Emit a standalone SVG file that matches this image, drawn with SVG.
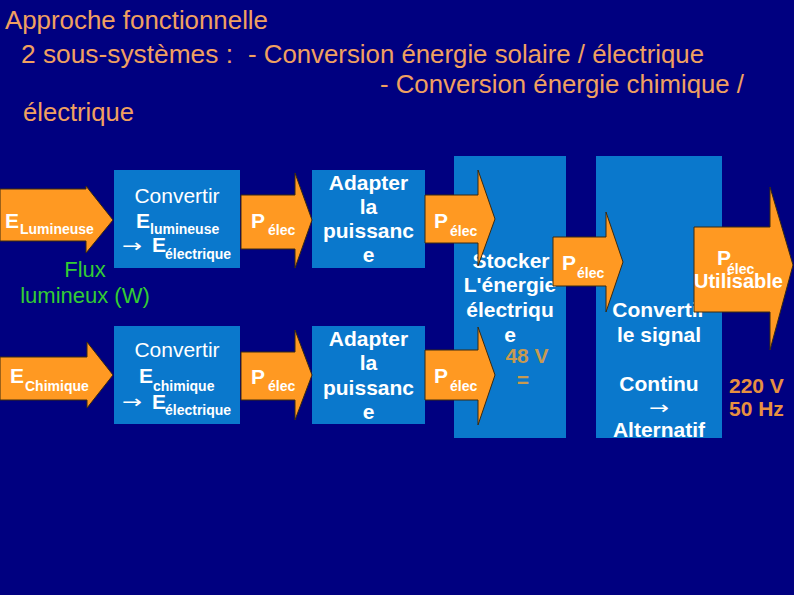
<svg xmlns="http://www.w3.org/2000/svg" width="794" height="595" viewBox="0 0 794 595">
<style>
text{font-family:"Liberation Sans",Arial,sans-serif}
.title{fill:#F0A060;font-size:26px}
.box{fill:#0A78CC}
.arr{fill:#FF9922;stroke:#3a2a10;stroke-width:1}
.w{fill:#fff;font-weight:bold}
.wn{fill:#fff;font-weight:normal}
.big{font-size:21px}
.sub{font-size:14px}
.ctr{text-anchor:middle}
.grn{fill:#3C3;font-size:22px}
.org{fill:#E89040;font-weight:bold;font-size:21px}
.khaki{fill:#C89A50}
text.ar{font-family:"DejaVu Sans",sans-serif;font-size:18px;fill:#fff}
</style>
<rect width="794" height="595" fill="#000080"/>
<g id="title">
<text class="title" x="5" y="29" textLength="263" lengthAdjust="spacingAndGlyphs">Approche fonctionnelle</text>
<text class="title" x="21" y="63" textLength="212" lengthAdjust="spacingAndGlyphs">2 sous-systèmes :</text>
<text class="title" x="248" y="63" textLength="456" lengthAdjust="spacingAndGlyphs">- Conversion énergie solaire / électrique</text>
<text class="title" x="380" y="93" textLength="364" lengthAdjust="spacingAndGlyphs">- Conversion énergie chimique /</text>
<text class="title" x="23" y="121" textLength="111" lengthAdjust="spacingAndGlyphs">électrique</text>
</g>
<g id="conv-lum">
<rect class="box" x="114" y="170" width="126" height="98"/>
<text class="wn big ctr" x="177" y="203">Convertir</text>
<text class="w big" x="136" y="228">E</text>
<text class="w sub" x="150" y="234">lumineuse</text>
<text class="ar" x="122" y="252" textLength="20" lengthAdjust="spacingAndGlyphs">→</text>
<text class="w big" x="152" y="252">E</text>
<text class="w sub" x="165" y="259">électrique</text>
</g>
<g id="conv-chim">
<rect class="box" x="114" y="326" width="126" height="98"/>
<text class="wn big ctr" x="177" y="357">Convertir</text>
<text class="w big" x="139" y="383">E</text>
<text class="w sub" x="153" y="391">chimique</text>
<text class="ar" x="122" y="408" textLength="20" lengthAdjust="spacingAndGlyphs">→</text>
<text class="w big" x="152" y="409">E</text>
<text class="w sub" x="165" y="415">électrique</text>
</g>
<g id="flux-label">
<text class="grn ctr" x="85" y="277">Flux</text>
<text class="grn ctr" x="85" y="303">lumineux (W)</text>
</g>
<g id="adapt-1">
<rect class="box" x="312" y="170" width="113" height="98"/>
<text class="w big ctr" x="368.5" y="190">Adapter</text>
<text class="w big ctr" x="368.5" y="214">la</text>
<text class="w big ctr" x="368.5" y="238">puissanc</text>
<text class="w big ctr" x="368.5" y="262">e</text>
</g>
<g id="adapt-2">
<rect class="box" x="312" y="326" width="113" height="98"/>
<text class="w big ctr" x="368.5" y="346">Adapter</text>
<text class="w big ctr" x="368.5" y="370">la</text>
<text class="w big ctr" x="368.5" y="395">puissanc</text>
<text class="w big ctr" x="368.5" y="419">e</text>
</g>
<g id="stocker">
<rect class="box" x="454" y="156" width="112" height="282"/>
<text class="w big ctr" x="511" y="268">Stocker</text>
<text class="w big ctr" x="510" y="292">L'énergie</text>
<text class="w big ctr" x="510" y="317">électriqu</text>
<text class="w big ctr" x="510" y="342">e</text>
<text class="org ctr khaki" x="527" y="363" style="fill:#C89A50">48 V</text>
<text class="org ctr khaki" x="523" y="387" style="fill:#C89A50">=</text>
</g>
<g id="convertir-signal">
<rect class="box" x="596" y="156" width="126" height="282"/>
<text class="w big ctr" x="659" y="317">Convertir</text>
<text class="w big ctr" x="659" y="342">le signal</text>
<text class="w big ctr" x="659" y="391">Continu</text>
<text class="ar ctr" x="659" y="414" textLength="20" lengthAdjust="spacingAndGlyphs">→</text>
<text class="w big ctr" x="659" y="437">Alternatif</text>
</g>
<g id="output-label">
<text class="org" x="729" y="393">220 V</text>
<text class="org" x="729" y="416">50 Hz</text>
</g>
<g id="connectors">
<g id="in-lum">
<polygon class="arr" points="0,189 86,189 86,186 113,220 86,253 86,241 0,241"/>
<text class="w big" x="5" y="228">E</text>
<text class="w sub" x="20" y="234">Lumineuse</text>
</g>
<g id="in-chim">
<polygon class="arr" points="0,357 87,357 87,342 113,375 87,408 87,400 0,400"/>
<text class="w big" x="10" y="383">E</text>
<text class="w sub" x="25" y="391">Chimique</text>
</g>
<g id="p1-top">
<polygon class="arr" points="241,195 295,195 295,173 312,220 295,268 295,249 241,249"/>
<text class="w big" x="251" y="228" font-size="22">P</text>
<text class="w sub" x="268" y="235">élec</text>
</g>
<g id="p1-bot">
<polygon class="arr" points="241,352 295,352 295,330 312,375 295,420 295,400 241,400"/>
<text class="w big" x="251" y="384" font-size="22">P</text>
<text class="w sub" x="268" y="391">élec</text>
</g>
<g id="p2-top">
<polygon class="arr" points="425,195 478,195 478,170 495,219 478,266 478,243 425,243"/>
<text class="w big" x="434" y="228" font-size="22">P</text>
<text class="w sub" x="450" y="236">élec</text>
</g>
<g id="p2-bot">
<polygon class="arr" points="425,350 478,350 478,327 495,375 478,425 478,400 425,400"/>
<text class="w big" x="434" y="383" font-size="22">P</text>
<text class="w sub" x="450" y="391">élec</text>
</g>
<g id="p3">
<polygon class="arr" points="553,237 606,237 606,212 623,262 606,312 606,286 553,286"/>
<text class="w big" x="562" y="270" font-size="22">P</text>
<text class="w sub" x="577" y="278">élec</text>
</g>
<g id="p4">
<polygon class="arr" points="694,227 770,227 770,187 793,265 770,350 770,312 694,312"/>
<text class="w big" x="717" y="265" font-size="22">P</text>
<text class="w sub" x="727" y="274">élec</text>
<text class="w" x="694" y="288" font-size="20">Utilisable</text>
</g>
</g>
</svg>
